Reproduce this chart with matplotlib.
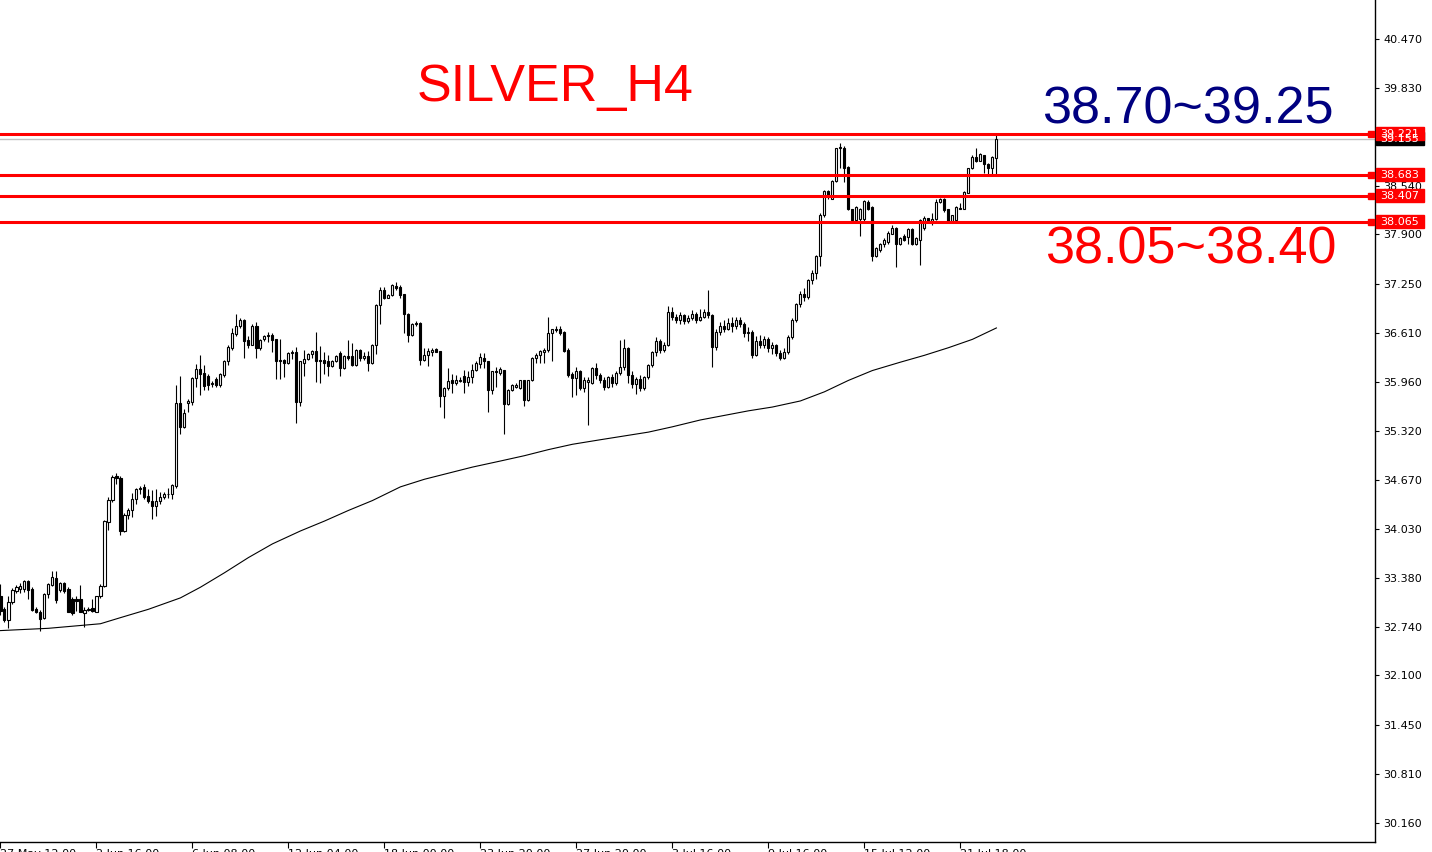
import matplotlib
matplotlib.use("Agg")
import matplotlib.pyplot as plt
import matplotlib.transforms as mtransforms
from matplotlib.patches import Rectangle
import numpy as np

# ---------------- data (H4 candles) ----------------
opens = [
    33.15, 32.98, 32.83, 33.06, 33.21, 33.24, 33.24, 33.34, 33.24, 32.98,
    32.93, 32.85, 33.17, 33.29, 33.38, 33.22, 33.31, 33.24, 33.11, 33.11,
    33.11, 32.92, 32.96, 32.99, 32.94, 33.14, 33.28, 34.12, 34.41, 34.72,
    34.70, 34.00, 34.21, 34.27, 34.42, 34.55, 34.58, 34.46, 34.39, 34.33,
    34.39, 34.45, 34.48, 34.48, 34.59, 35.68, 35.37, 35.68, 35.69, 36.01,
    36.13, 36.08, 36.04, 35.93, 36.00, 35.92, 36.05, 36.24, 36.40, 36.59,
    36.69, 36.78, 36.51, 36.45, 36.70, 36.40, 36.52, 36.57, 36.58, 36.53,
    36.25, 36.25, 36.21, 36.34, 36.35, 35.70, 36.21, 36.26, 36.33, 36.37,
    36.25, 36.25, 36.23, 36.17, 36.24, 36.34, 36.14, 36.30, 36.30, 36.18,
    36.38, 36.28, 36.30, 36.21, 36.45, 36.97, 37.17, 37.07, 37.10, 37.22,
    37.21, 37.11, 36.86, 36.58, 36.72, 36.74, 36.25, 36.32, 36.36, 36.39,
    36.37, 35.77, 35.88, 35.99, 35.94, 35.97, 36.04, 35.96, 36.02, 36.12,
    36.19, 36.28, 36.24, 35.86, 36.10, 36.08, 36.12, 35.67, 35.85, 35.90,
    35.88, 35.98, 35.72, 35.99, 36.28, 36.31, 36.35, 36.38, 36.60, 36.65,
    36.65, 36.62, 36.38, 36.07, 36.01, 36.11, 35.88, 35.96, 35.94, 36.14,
    36.05, 35.98, 35.90, 36.02, 35.94, 36.08, 36.15, 36.40, 36.05, 35.93,
    36.00, 35.88, 36.02, 36.18, 36.35, 36.50, 36.38, 36.45, 36.88, 36.82,
    36.78, 36.84, 36.76, 36.80, 36.86, 36.78, 36.82, 36.88, 36.84, 36.42,
    36.62, 36.70, 36.66, 36.74, 36.70, 36.78, 36.72, 36.60, 36.62, 36.32,
    36.50, 36.45, 36.52, 36.40, 36.44, 36.34, 36.28, 36.36, 36.55, 36.78,
    36.98, 37.12, 37.08, 37.30, 37.39, 37.61, 38.15, 38.47, 38.37, 38.60,
    39.03, 39.03, 38.79, 38.23, 38.09, 38.10, 38.10, 38.33, 38.26, 37.61,
    37.70, 37.77, 37.80, 37.91, 37.99, 37.77, 37.88, 37.87, 37.97, 37.77,
    37.83, 37.98, 38.11, 38.07, 38.10, 38.32, 38.37, 38.23, 38.08, 38.09,
    38.25, 38.24, 38.45, 38.77, 38.92, 38.87, 38.94, 38.83, 38.77, 38.91,
]
highs = [
    33.30, 33.00, 33.14, 33.25, 33.29, 33.31, 33.36, 33.36, 33.26, 33.00,
    32.96, 33.19, 33.32, 33.47, 33.47, 33.33, 33.33, 33.26, 33.13, 33.14,
    33.29, 33.00, 33.00, 33.11, 33.15, 33.30, 34.15, 34.45, 34.73, 34.76,
    34.72, 34.23, 34.30, 34.50, 34.57, 34.59, 34.62, 34.55, 34.54, 34.55,
    34.51, 34.51, 34.56, 34.62, 35.92, 36.04, 35.60, 35.74, 36.03, 36.19,
    36.31, 36.18, 36.06, 35.97, 36.02, 36.08, 36.25, 36.44, 36.67, 36.86,
    36.80, 36.79, 36.57, 36.72, 36.75, 36.52, 36.58, 36.62, 36.60, 36.53,
    36.52, 36.26, 36.36, 36.38, 36.42, 36.24, 36.38, 36.34, 36.38, 36.62,
    36.43, 36.36, 36.31, 36.25, 36.31, 36.37, 36.31, 36.51, 36.47, 36.39,
    36.39, 36.36, 36.37, 36.46, 36.98, 37.21, 37.21, 37.12, 37.25, 37.28,
    37.23, 37.12, 36.87, 36.73, 36.76, 36.75, 36.40, 36.40, 36.40, 36.40,
    36.37, 35.89, 36.14, 36.07, 36.05, 36.02, 36.12, 36.10, 36.20, 36.24,
    36.34, 36.34, 36.24, 36.11, 36.16, 36.15, 36.12, 35.87, 35.93, 35.94,
    35.99, 35.99, 35.99, 36.29, 36.34, 36.38, 36.40, 36.81, 36.66, 36.70,
    36.70, 36.63, 36.40, 36.09, 36.16, 36.12, 36.03, 36.02, 36.16, 36.21,
    36.08, 36.02, 36.04, 36.06, 36.10, 36.51, 36.52, 36.42, 36.10, 36.03,
    36.05, 36.04, 36.20, 36.37, 36.55, 36.52, 36.48, 36.96, 36.95, 36.86,
    36.88, 36.86, 36.84, 36.90, 36.88, 36.92, 36.92, 37.17, 36.86, 36.65,
    36.75, 36.78, 36.80, 36.82, 36.82, 36.82, 36.75, 36.68, 36.64, 36.56,
    36.58, 36.56, 36.55, 36.48, 36.46, 36.38, 36.40, 36.58, 36.80, 37.00,
    37.15, 37.20, 37.32, 37.43, 37.63, 38.18, 38.49, 38.48, 38.62, 39.04,
    39.10, 39.06, 38.80, 38.24, 38.27, 38.25, 38.35, 38.35, 38.27, 37.73,
    37.79, 37.85, 37.94, 38.02, 38.00, 37.86, 37.90, 37.98, 37.98, 37.86,
    38.10, 38.14, 38.12, 38.18, 38.36, 38.38, 38.38, 38.24, 38.16, 38.27,
    38.31, 38.47, 38.78, 38.94, 39.03, 38.97, 38.95, 38.84, 38.93, 39.21,
]
lows = [
    32.90, 32.80, 32.72, 33.04, 33.19, 33.18, 33.20, 33.11, 32.95, 32.92,
    32.68, 32.84, 33.12, 33.28, 33.05, 33.20, 33.19, 32.93, 32.90, 32.95,
    32.93, 32.74, 32.95, 32.94, 32.93, 33.12, 33.26, 34.01, 34.38, 34.62,
    33.95, 33.98, 34.16, 34.19, 34.35, 34.48, 34.42, 34.37, 34.16, 34.20,
    34.36, 34.42, 34.44, 34.42, 34.57, 35.28, 35.35, 35.56, 35.66, 35.90,
    35.79, 35.85, 35.86, 35.90, 35.90, 35.90, 36.03, 36.18, 36.38, 36.57,
    36.67, 36.28, 36.41, 36.44, 36.28, 36.38, 36.50, 36.48, 36.35, 36.00,
    36.00, 36.03, 36.20, 36.26, 35.42, 35.64, 36.04, 36.25, 36.27, 35.96,
    35.94, 36.07, 36.04, 36.15, 36.22, 36.04, 36.13, 36.25, 36.17, 36.17,
    36.24, 36.25, 36.11, 36.20, 36.33, 36.72, 37.05, 37.06, 37.09, 37.17,
    37.07, 36.61, 36.49, 36.57, 36.70, 36.18, 36.23, 36.17, 36.30, 36.35,
    35.63, 35.48, 35.85, 35.82, 35.92, 35.96, 35.81, 35.91, 35.95, 36.10,
    36.14, 36.14, 35.57, 35.80, 35.90, 36.05, 35.27, 35.66, 35.84, 35.88,
    35.87, 35.64, 35.71, 35.97, 36.21, 36.21, 36.21, 36.36, 36.23, 36.62,
    36.58, 36.36, 36.03, 35.76, 35.79, 35.85, 35.83, 35.39, 35.93, 36.00,
    35.95, 35.85, 35.88, 35.90, 35.92, 36.05, 36.12, 35.95, 35.88, 35.80,
    35.84, 35.86, 36.00, 36.15, 36.30, 36.34, 36.35, 36.43, 36.78, 36.74,
    36.72, 36.72, 36.73, 36.77, 36.74, 36.76, 36.80, 36.80, 36.15, 36.38,
    36.58, 36.62, 36.64, 36.62, 36.66, 36.68, 36.55, 36.50, 36.28, 36.30,
    36.40, 36.40, 36.36, 36.33, 36.30, 36.25, 36.26, 36.33, 36.52, 36.75,
    36.95, 37.02, 37.05, 37.25, 37.32, 37.48, 38.13, 38.37, 38.36, 38.59,
    38.78, 38.59, 38.22, 38.08, 38.07, 37.88, 38.08, 38.22, 37.55, 37.60,
    37.67, 37.74, 37.78, 37.90, 37.47, 37.76, 37.81, 37.78, 37.76, 37.76,
    37.50, 37.96, 38.05, 38.02, 38.09, 38.31, 38.20, 38.07, 38.07, 38.08,
    38.23, 38.23, 38.44, 38.76, 38.85, 38.86, 38.71, 38.70, 38.70, 38.70,
]
closes = [
    32.95, 32.83, 33.07, 33.22, 33.26, 33.27, 33.34, 33.22, 32.96, 32.93,
    32.84, 33.17, 33.30, 33.39, 33.09, 33.31, 33.21, 32.94, 32.92, 33.08,
    32.94, 32.96, 32.98, 32.95, 33.14, 33.28, 34.13, 34.41, 34.71, 34.70,
    34.00, 34.21, 34.28, 34.42, 34.55, 34.57, 34.45, 34.40, 34.33, 34.39,
    34.45, 34.49, 34.49, 34.60, 35.68, 35.37, 35.55, 35.71, 36.01, 36.13,
    36.06, 35.91, 35.92, 35.95, 35.92, 36.07, 36.24, 36.42, 36.60, 36.70,
    36.78, 36.50, 36.45, 36.70, 36.40, 36.51, 36.57, 36.58, 36.51, 36.23,
    36.23, 36.21, 36.34, 36.36, 35.69, 36.24, 36.26, 36.33, 36.37, 36.23,
    36.23, 36.21, 36.17, 36.24, 36.30, 36.14, 36.30, 36.28, 36.18, 36.38,
    36.27, 36.30, 36.21, 36.45, 36.97, 37.17, 37.07, 37.10, 37.24, 37.19,
    37.10, 36.86, 36.58, 36.72, 36.74, 36.25, 36.32, 36.37, 36.38, 36.36,
    35.77, 35.88, 35.97, 35.94, 35.99, 35.99, 35.96, 36.02, 36.12, 36.21,
    36.29, 36.24, 35.86, 36.10, 36.09, 36.13, 35.67, 35.86, 35.92, 35.92,
    35.98, 35.72, 35.99, 36.28, 36.32, 36.37, 36.38, 36.60, 36.65, 36.64,
    36.61, 36.37, 36.05, 36.01, 36.11, 35.88, 35.98, 35.99, 36.14, 36.05,
    35.98, 35.90, 36.02, 35.94, 36.08, 36.15, 36.40, 36.05, 35.93, 36.00,
    35.88, 36.02, 36.18, 36.35, 36.50, 36.38, 36.45, 36.88, 36.82, 36.78,
    36.84, 36.76, 36.80, 36.86, 36.78, 36.82, 36.88, 36.84, 36.42, 36.62,
    36.70, 36.66, 36.74, 36.70, 36.78, 36.72, 36.60, 36.62, 36.32, 36.50,
    36.45, 36.52, 36.40, 36.44, 36.34, 36.28, 36.36, 36.55, 36.78, 36.98,
    37.12, 37.08, 37.30, 37.39, 37.61, 38.15, 38.47, 38.42, 38.60, 39.03,
    39.05, 38.78, 38.23, 38.09, 38.26, 38.24, 38.34, 38.24, 37.61, 37.72,
    37.78, 37.83, 37.92, 37.99, 37.77, 37.85, 37.83, 37.97, 37.77, 37.85,
    38.09, 38.12, 38.07, 38.10, 38.33, 38.37, 38.22, 38.08, 38.15, 38.26,
    38.24, 38.46, 38.77, 38.92, 38.86, 38.96, 38.83, 38.78, 38.92, 39.15,
]

# moving average line, read at sample bars
ma_bars = [0, 12, 25, 30, 37, 45, 50, 56, 62, 68, 75, 81, 87, 93, 100, 106,
           112, 118, 125, 131, 137, 143, 150, 156, 162, 168, 175, 181, 187,
           193, 200, 206, 212, 218, 225, 231, 237, 243, 249]
ma_vals = [32.69, 32.72, 32.78, 32.86, 32.97, 33.12, 33.26, 33.45, 33.65,
           33.83, 34.00, 34.13, 34.27, 34.40, 34.58, 34.68, 34.76, 34.84,
           34.92, 34.99, 35.07, 35.14, 35.20, 35.25, 35.30, 35.37, 35.46,
           35.52, 35.58, 35.63, 35.71, 35.83, 35.98, 36.11, 36.22, 36.31,
           36.41, 36.52, 36.67]

levels = [39.221, 38.683, 38.407, 38.065]
bid_price = 39.155

y_ticks = [40.470, 39.830, 39.185, 38.540, 37.900, 37.250, 36.610, 35.960,
           35.320, 34.670, 34.030, 33.380, 32.740, 32.100, 31.450, 30.810,
           30.160]
hidden_ticks = [39.185]   # covered by the price labels in the original
x_tick_bars = [0, 24, 48, 72, 96, 120, 144, 168, 192, 216, 240]
x_tick_labels = ["27 May 12:00", "2 Jun 16:00", "6 Jun 08:00", "12 Jun 04:00",
                 "18 Jun 00:00", "23 Jun 20:00", "27 Jun 20:00", "3 Jul 16:00",
                 "9 Jul 16:00", "15 Jul 12:00", "21 Jul 18:00"]

title_text = "SILVER_H4"
upper_zone = "38.70~39.25"
lower_zone = "38.05~38.40"

# ---------------- figure ----------------
W, H = 1432, 852
fig = plt.figure(figsize=(W / 100, H / 100), dpi=100)
fig.patch.set_facecolor("white")
ax_right_px = 1375
ax_bottom_px = 842
ax = fig.add_axes([0, (H - ax_bottom_px) / H, ax_right_px / W, ax_bottom_px / H])
ax.set_facecolor("white")

O = np.array(opens); Hh = np.array(highs); L = np.array(lows); C = np.array(closes)
n = len(O)
x = np.arange(n)

ax.vlines(x, L, Hh, color="black", lw=0.8, zorder=2)
body_bottom = np.minimum(O, C)
body_h = np.maximum(np.abs(C - O), 0.004)
cols = np.where(C >= O, "white", "black")
ax.bar(x, body_h, bottom=body_bottom, width=0.55, color=cols,
       edgecolor="black", linewidth=0.8, zorder=3)

ax.plot(ma_bars, ma_vals, color="black", lw=0.8, zorder=2)

ax.axhline(bid_price, color="#c0c0c0", lw=1.0, zorder=1)

x_left = -0.1
x_right = x_left + ax_right_px / 4.0
ax.set_xlim(x_left, x_right)
ppx = 0.013151
y_top = 40.470 + 39 * ppx
y_bot = 40.470 - (ax_bottom_px - 39) * ppx
ax.set_ylim(y_bot, y_top)

for lv in levels:
    ax.axhline(lv, color="#ff0000", lw=2.2, zorder=5)
    ax.plot([x_right - 0.9], [lv], marker="s", ms=5, mfc="#ff0000",
            mec="#ff0000", zorder=6, clip_on=False)

# spines
for s in ["left", "top"]:
    ax.spines[s].set_visible(False)
ax.spines["right"].set_linewidth(1.0)
ax.spines["bottom"].set_linewidth(1.0)

ax.yaxis.tick_right()
ax.set_yticks(y_ticks)
ax.set_yticklabels(["" if v in hidden_ticks else f"{v:.3f}" for v in y_ticks])
ax.tick_params(axis="y", direction="out", length=3, width=0.8, pad=3,
               labelsize=8, colors="black")
ax.set_xticks(x_tick_bars)
ax.set_xticklabels(x_tick_labels, ha="left")
ax.tick_params(axis="x", direction="out", length=4, width=0.8, pad=1,
               labelsize=8, colors="black")

# price labels on the right axis
blend = mtransforms.blended_transform_factory(fig.transFigure, ax.transData)
box_h = 13 * ppx


def price_label(p, face, txt):
    ax.add_patch(Rectangle((1376 / W, p - box_h / 2), 48 / W, box_h,
                           transform=blend, facecolor=face, edgecolor=face,
                           clip_on=False, zorder=10))
    ax.text(1380 / W, p, txt, transform=blend, color="white", fontsize=8,
            ha="left", va="center", clip_on=False, zorder=11)


price_label(bid_price, "black", f"{bid_price:.3f}")
for lv in levels:
    price_label(lv, "#ff0000", f"{lv:.3f}")

# annotations
big = dict(family=["Liberation Sans", "DejaVu Sans"], fontsize=37.5)
fig.text(555 / W, 1 - 101 / H, title_text, color="#ff0000", ha="center",
         va="baseline", **big)
fig.text(1188 / W, 1 - 123 / H, upper_zone, color="#000080", ha="center",
         va="baseline", **big)
fig.text(1191 / W, 1 - 263 / H, lower_zone, color="#ff0000", ha="center",
         va="baseline", **big)

fig.savefig("out.png", dpi=100, facecolor="white")
